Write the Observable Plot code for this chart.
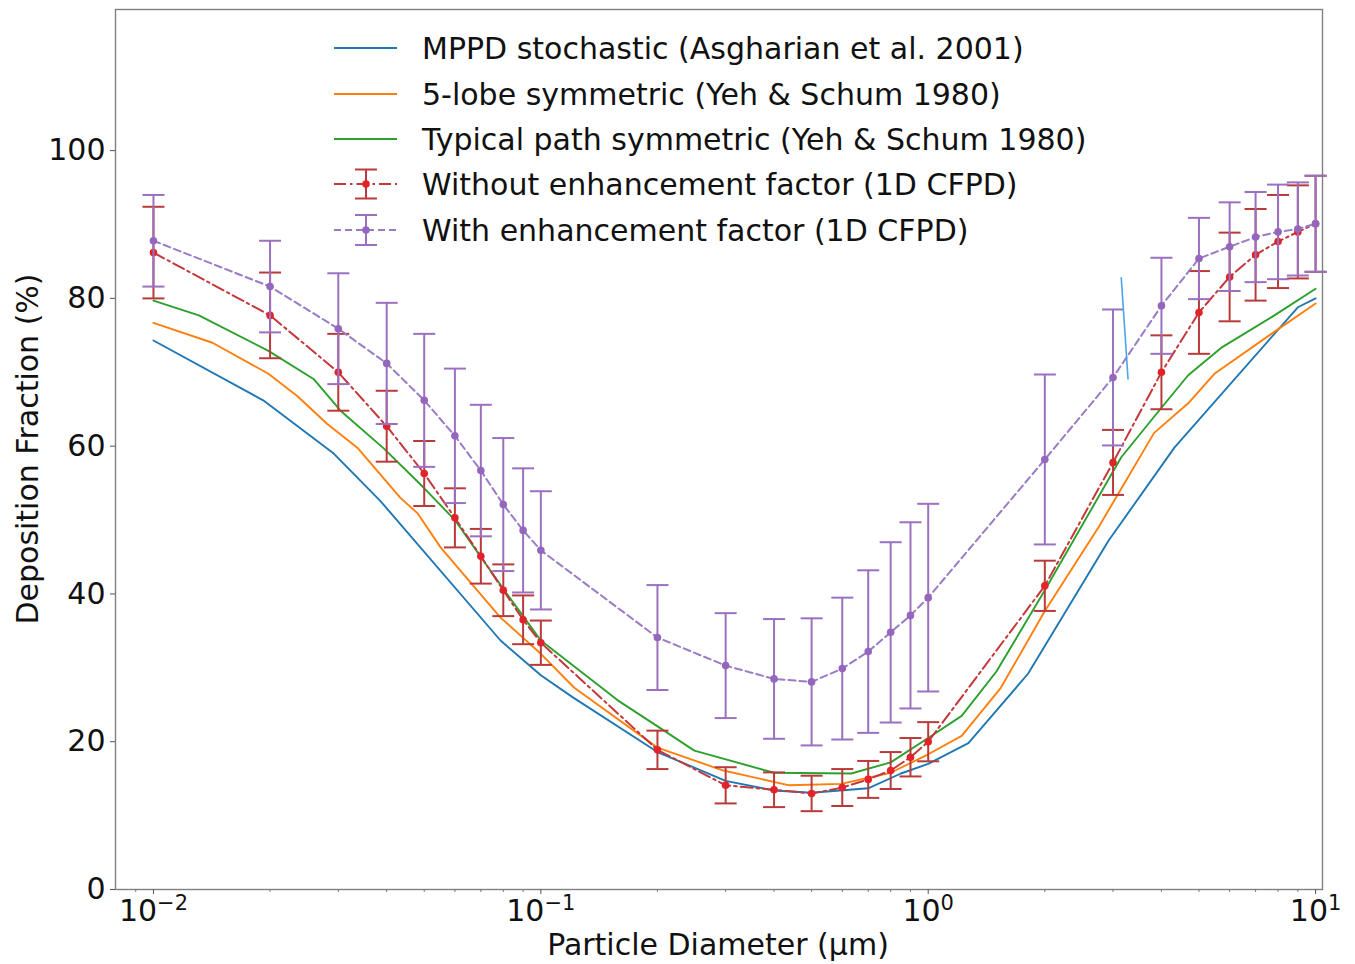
<!DOCTYPE html>
<html><head><meta charset="utf-8">
<script src="https://cdn.jsdelivr.net/npm/d3@7"></script>
<script src="https://cdn.jsdelivr.net/npm/@observablehq/plot@0.6"></script>
<style>html,body{margin:0;padding:0;background:#fff;} #chart svg{display:block;}</style>
</head><body><div id="chart"></div>
<script>
// ---------- data ----------
const sizes = [0.01,0.02,0.03,0.04,0.05,0.06,0.07,0.08,0.09,0.1,0.2,0.3,0.4,0.5,0.6,0.7,0.8,0.9,1,2,3,4,5,6,7,8,9,10];
const withoutEF    = [86.2,77.7,70.0,62.7,56.3,50.3,45.1,40.5,36.5,33.4,18.9,14.1,13.5,13.0,13.8,14.9,16.1,17.9,20.0,41.1,57.8,70.0,78.1,82.9,85.9,87.7,89.0,90.1];
const withoutEFerr = [6.2,5.8,5.2,4.8,4.4,4.0,3.7,3.5,3.3,3.0,2.6,2.45,2.35,2.4,2.5,2.5,2.5,2.6,2.65,3.4,4.4,5.0,5.6,6.0,6.2,6.3,6.3,6.5];
const withEF    = [87.8,81.6,75.9,71.2,66.2,61.4,56.7,52.1,48.6,45.9,34.1,30.3,28.5,28.1,29.9,32.2,34.8,37.1,39.5,58.2,69.3,79.0,85.4,87.0,88.3,89.0,89.4,90.1];
const withEFerr = [6.2,6.2,7.5,8.2,9.0,9.1,8.9,9.0,8.4,8.0,7.1,7.1,8.1,8.6,9.6,11.0,12.2,12.6,12.7,11.5,9.2,6.5,5.5,6.0,6.1,6.4,6.3,6.5];

const mppdX = [0.01,0.0192,0.0292,0.0385,0.0787,0.1,0.121,0.2,0.3,0.4,0.5,0.7,0.85,1.0,1.27,1.81,2.92,4.32,9.0,10];
const mppdY = [74.3,66.2,59.0,52.6,33.7,29.0,26.0,18.6,14.7,13.4,13.1,13.7,15.7,17.0,19.8,29.2,47.2,59.8,78.8,80.0];

const lobeX = [0.01,0.0142,0.0198,0.0235,0.0281,0.0336,0.0434,0.0481,0.0551,0.0787,0.1,0.122,0.2,0.296,0.438,0.596,0.8,1.0,1.22,1.54,2.0,2.75,3.83,4.69,5.48,7.69,10];
const lobeY = [76.7,74.0,69.8,66.8,63.0,59.8,53.0,50.9,46.3,36.8,31.9,27.3,19.2,16.1,14.1,14.3,15.8,18.3,20.8,27.3,37.7,49.0,61.8,65.8,69.8,75.2,79.3];

const pathX = [0.01,0.0131,0.0198,0.0259,0.0304,0.0393,0.0498,0.06,0.07,0.08,0.09,0.1,0.158,0.208,0.249,0.4,0.633,0.8,1.0,1.22,1.5,2.0,3.15,4.0,4.69,5.7,7.83,10];
const pathY = [79.7,77.7,72.9,69.1,64.8,59.7,54.4,50.0,45.0,40.7,37.0,33.7,25.6,21.5,18.8,15.8,15.7,17.2,20.5,23.5,29.5,40.5,58.5,65.2,69.6,73.3,77.7,81.3];

// a stray short light-blue stroke visible in the reference
const strayX = [3.15,3.28];
const strayY = [82.8,69.1];

const xMajorTicks = [0.01,0.1,1,10];
const xTickLabels = [["10","\u22122"],["10","\u22121"],["10","0"],["10","1"]];
const yTicks = [0,20,40,60,80,100];

const seriesNames = [
  "MPPD stochastic (Asgharian et al. 2001)",
  "5-lobe symmetric (Yeh & Schum 1980)",
  "Typical path symmetric (Yeh & Schum 1980)",
  "Without enhancement factor (1D CFPD)",
  "With enhancement factor (1D CFPD)"
];
const colors = {blue:"#1f77b4", orange:"#ff7f0e", green:"#2ca02c",
  redLine:"#c4383c", redBar:"#b93a3a", redDot:"#e0242a",
  purLine:"#9a7bc6", purBar:"#9b70c0", purDot:"#9467bd", stray:"#4aa5ea"};

// ---------- tables ----------
const toPts = (xs, ys) => xs.map((x,i)=>({x, y: ys[i]}));
const mppd = toPts(mppdX, mppdY), lobe = toPts(lobeX, lobeY), path = toPts(pathX, pathY), stray = toPts(strayX, strayY);
const red = sizes.map((x,i)=>({x, y: withoutEF[i], e: withoutEFerr[i]}));
const pur = sizes.map((x,i)=>({x, y: withEF[i], e: withEFerr[i]}));

const xMinorTicks = [];
for (let p = -3; p <= 1; p++) for (let m = 2; m <= 9; m++) { const v = m*Math.pow(10,p); if (v > 0.008 && v < 10.4) xMinorTicks.push(v); }

const capSymbol = { draw(ctx){ ctx.moveTo(-11,0); ctx.lineTo(11,0); } };
const errMarks = (data, bar, line, dot, dash) => [
  Plot.ruleX(data, {x:"x", y1:d=>d.y-d.e, y2:d=>d.y+d.e, stroke: bar, strokeWidth: 2}),
  Plot.dot(data, {x:"x", y:d=>d.y-d.e, symbol: capSymbol, stroke: bar, strokeWidth: 2, fill: "none"}),
  Plot.dot(data, {x:"x", y:d=>d.y+d.e, symbol: capSymbol, stroke: bar, strokeWidth: 2, fill: "none"}),
  Plot.line(data, {x:"x", y:"y", stroke: line, strokeWidth: 2, strokeDasharray: dash}),
  Plot.dot(data, {x:"x", y:"y", r: 3.8, fill: dot, stroke: "none"})
];

const W = 1355, H = 964;
const chart = Plot.plot({
  width: W, height: H,
  marginLeft: 115, marginRight: 33, marginTop: 9, marginBottom: 75,
  style: {fontFamily: "'DejaVu Sans', sans-serif", fontSize: "30px", color: "#111", background: "#fff"},
  x: {type: "log", domain: [0.00798, 10.42], range: [115, 1322]},
  y: {domain: [0, 119.1]},
  marks: [
    Plot.line(mppd, {x:"x", y:"y", stroke: colors.blue, strokeWidth: 1.9}),
    Plot.line(lobe, {x:"x", y:"y", stroke: colors.orange, strokeWidth: 1.9}),
    Plot.line(path, {x:"x", y:"y", stroke: colors.green, strokeWidth: 1.9}),
    ...errMarks(red, colors.redBar, colors.redLine, colors.redDot, "12,4,2.5,4"),
    ...errMarks(pur, colors.purBar, colors.purLine, colors.purDot, "7,4"),
    Plot.line(stray, {x:"x", y:"y", stroke: colors.stray, strokeWidth: 1.6}),
    Plot.frame({stroke: "#808080", strokeWidth: 1.4}),
    Plot.axisY({ticks: yTicks, tickSize: 5, tickPadding: 5, fontSize: 30, label: null, stroke: "#555"}),
    Plot.axisX({ticks: xMinorTicks, tickSize: 3, tickFormat: () => "", label: null, stroke: "#777"}),
    Plot.axisX({ticks: xMajorTicks, tickSize: 5, tickPadding: 5, fontSize: 30, label: null, stroke: "#555",
      tickFormat: d => "10^" + Math.round(Math.log10(d))})
  ]
});
document.getElementById("chart").appendChild(chart);

const svg = d3.select(chart);
// superscript tick labels (only the major ones carry text)
svg.selectAll('[aria-label="x-axis tick label"] text').each(function() {
  const t = d3.select(this);
  const m = /^10\^(-?\d+)$/.exec(t.text().trim());
  if (!m) return;
  const p = +m[1];
  const idx = xMajorTicks.findIndex(v => Math.round(Math.log10(v)) === p);
  if (idx < 0) return;
  const [base, sup] = xTickLabels[idx];
  t.text(null);
  t.append("tspan").text(base);
  t.append("tspan").attr("font-size", "21px").attr("dy", "-0.5em").text(sup);
});

// axis titles
svg.append("text").attr("x", 718).attr("y", 955).attr("text-anchor", "middle")
  .attr("font-size", 30).attr("fill", "#111").text("Particle Diameter (\u03bcm)");
svg.append("text").attr("transform", "translate(27,449) rotate(-90)").attr("text-anchor", "middle")
  .attr("dominant-baseline", "central").attr("font-size", 30).attr("fill", "#111").text("Deposition Fraction (%)");

// legend
const lg = svg.append("g").attr("font-size", 30).attr("fill", "#111").attr("text-anchor", "start");
const rows = [48, 94, 139, 184, 230];
const lx1 = 334, lx2 = 397, lxm = 366, ltx = 422;
const legendStyle = [
  {stroke: colors.blue}, {stroke: colors.orange}, {stroke: colors.green},
  {stroke: colors.redLine, dash: "12,4,2.5,4", bar: colors.redBar, dot: colors.redDot, h: 14.5},
  {stroke: colors.purLine, dash: "7,4", bar: colors.purBar, dot: colors.purDot, h: 15}
];
seriesNames.forEach((name, i) => {
  const y = rows[i], s = legendStyle[i];
  lg.append("line").attr("x1", lx1).attr("x2", lx2).attr("y1", y).attr("y2", y)
    .attr("stroke", s.stroke).attr("stroke-width", 2).attr("stroke-dasharray", s.dash || null);
  if (s.bar) {
    lg.append("line").attr("x1", lxm).attr("x2", lxm).attr("y1", y - s.h).attr("y2", y + s.h).attr("stroke", s.bar).attr("stroke-width", 2);
    [y - s.h, y + s.h].forEach(yy => lg.append("line").attr("x1", lxm - 11).attr("x2", lxm + 11).attr("y1", yy).attr("y2", yy).attr("stroke", s.bar).attr("stroke-width", 2));
    lg.append("circle").attr("cx", lxm).attr("cy", y).attr("r", 3.8).attr("fill", s.dot);
  }
  lg.append("text").attr("x", ltx).attr("y", y).attr("dy", "0.36em").attr("text-anchor", "start").text(name);
});
</script>
</body></html>
